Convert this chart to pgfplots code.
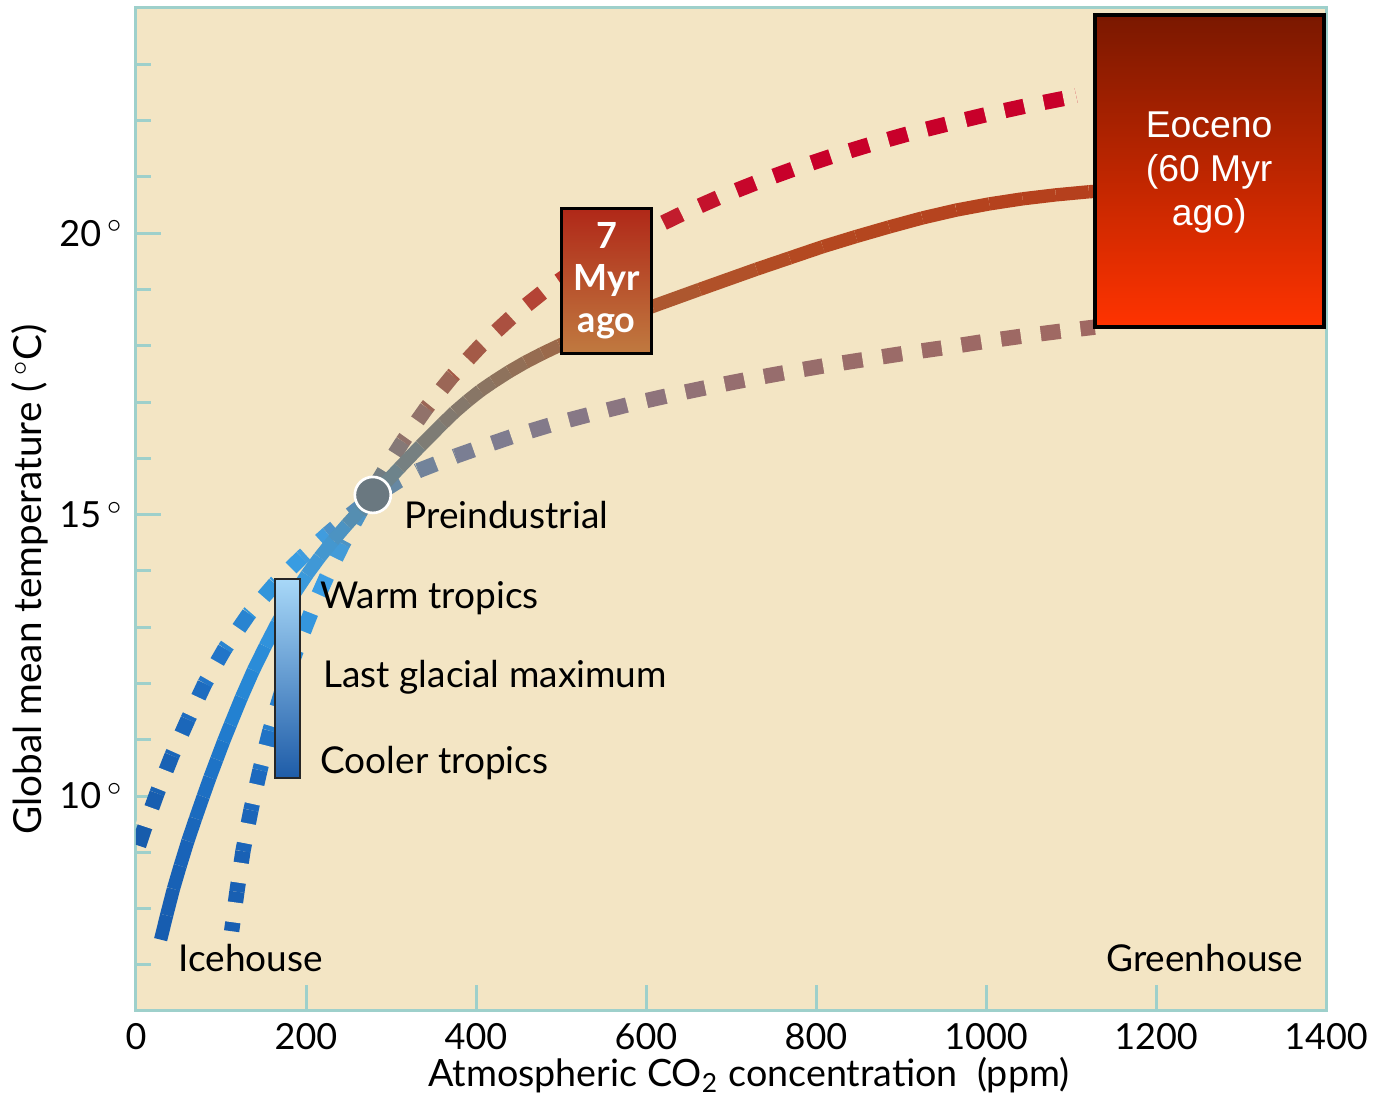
\documentclass[border=0pt]{standalone}
\usepackage{fontspec}
\setmainfont{Lato}
\newfontfamily\arialf{Liberation Sans}
\usepackage{pgfplots}
\usepackage{pgfplotstable}
\pgfplotsset{compat=1.18}
\definecolor{bgc}{RGB}{243,229,196}
\definecolor{axc}{RGB}{158,208,203}
\pgfplotsset{
 colormap={solidcm}{rgb255(0pt)=(21,85,165) rgb255(60pt)=(25,100,185) rgb255(120pt)=(35,130,210) rgb255(180pt)=(55,155,225) rgb255(230pt)=(70,150,205) rgb255(280pt)=(100,135,150) rgb255(340pt)=(125,125,120) rgb255(420pt)=(140,115,95) rgb255(520pt)=(160,100,65) rgb255(650pt)=(175,85,45) rgb255(800pt)=(180,72,32) rgb255(1200pt)=(182,62,28)},
 colormap={cmA}{rgb255(0pt)=(22,90,170) rgb255(80pt)=(30,110,195) rgb255(150pt)=(50,150,220) rgb255(200pt)=(60,160,230) rgb255(250pt)=(80,140,190) rgb255(300pt)=(105,135,160) rgb255(400pt)=(125,125,145) rgb255(550pt)=(138,118,130) rgb255(700pt)=(150,110,110) rgb255(1000pt)=(158,105,100) rgb255(1200pt)=(160,104,96)},
 colormap={cmB}{rgb255(0pt)=(22,88,170) rgb255(100pt)=(22,88,170) rgb255(140pt)=(28,105,190) rgb255(180pt)=(45,140,215) rgb255(220pt)=(60,160,230) rgb255(260pt)=(80,145,190) rgb255(290pt)=(115,125,130) rgb255(314pt)=(140,120,115) rgb255(373pt)=(160,95,75) rgb255(442pt)=(175,75,60) rgb255(480pt)=(185,58,45) rgb255(640pt)=(195,25,45) rgb255(730pt)=(200,0,42) rgb255(1200pt)=(200,0,42)},
}
% low-sensitivity range (upper-left below 280 ppm, lower branch above)
\pgfplotstableread{
x y
3 9.12
10.6 9.46
24.7 10.05
42.3 10.72
61.1 11.36
81 12.00
104.6 12.62
133 13.24
163.4 13.77
195 14.24
225.7 14.66
250 14.97
278.6 15.31
310 15.61
332 15.78
354 15.91
376 16.04
398.5 16.16
443 16.39
489 16.60
534 16.78
581 16.96
628 17.12
672 17.26
719 17.40
766 17.53
812 17.65
859 17.76
906 17.87
953 17.97
1000 18.08
1047 18.18
1094 18.27
1128 18.33
}\curveA
% high-sensitivity range
\pgfplotstableread{
x y
112.5 7.60
118.7 8.30
125.8 9.02
135.2 9.75
145.8 10.46
157.5 11.16
172 11.88
190.4 12.67
208 13.34
224.5 13.90
243.3 14.48
263 15.03
278.6 15.44
300 15.97
313.9 16.30
342 16.90
372.6 17.47
406.7 18.02
442 18.51
478.4 18.95
510 19.28
540 19.57
575 19.84
607.7 20.09
643 20.35
686.5 20.64
730 20.90
774.7 21.145
819.3 21.37
865 21.58
909.8 21.77
954.5 21.94
1001.5 22.11
1047 22.26
1094 22.40
1106 22.44
}\curveB
% central estimate
\pgfplotstableread{
x y
29 7.45
36 7.88
44 8.35
52 8.76
61 9.20
70 9.60
79 9.99
87 10.33
95 10.65
103 10.97
111 11.27
124 11.75
138 12.23
152 12.66
166 13.07
183 13.52
201 13.93
216 14.24
232 14.54
248 14.82
263 15.07
279 15.33
295 15.59
310 15.83
335 16.225
361 16.62
375 16.825
390 17.02
405 17.20
420 17.356
439 17.54
458 17.706
478 17.862
498 18.006
524 18.18
550 18.35
579 18.53
608 18.70
663 19.00
730 19.36
769 19.56
808 19.76
847 19.94
886 20.11
925 20.27
965 20.41
1004 20.52
1043 20.61
1082 20.68
1121 20.735
1135 20.75
}\curveS
\begin{document}
\fontsize{11.1}{13}\selectfont
\begin{tikzpicture}
\begin{axis}[
 scale only axis, width=357pt, height=300.6pt,
 xmin=0, xmax=1400, ymin=6.2, ymax=24,
 axis background/.style={fill=bgc},
 axis line style={draw=axc, line width=0.9pt},
 xtick={0,200,...,1400},
 ytick={10,15,20},
 yticklabels={10\,$^\circ$,15\,$^\circ$,20\,$^\circ$},
 minor ytick={7,8,9,11,12,13,14,16,17,18,19,21,22,23},
 tick align=inside, xtick pos=bottom, ytick pos=left,
 major tick length=7.5pt, minor tick length=4.5pt,
 every tick/.style={draw=axc, line width=0.9pt},
 tick label style={font=\fontsize{10.8}{13}\selectfont},
 /pgf/number format/assume math mode=true,
 /pgf/number format/set thousands separator={},
 xlabel={Atmospheric CO\textsubscript{2} concentration\ \ (ppm)},
 xlabel style={at={(axis description cs:0.515,0)}, anchor=center, yshift=-19.5pt, font=\fontsize{11.3}{13}\selectfont},
 ylabel={Global mean temperature (\,$^\circ$C)},
 ylabel style={at={(axis description cs:-0.089,0.43)}, anchor=center, font=\fontsize{11.6}{13}\selectfont},
 point meta min=0, point meta max=1200,
]
% low-sensitivity dashed curve
\addplot[mesh, point meta=x, colormap name=cmA, line width=4.6pt, line cap=butt] table {\curveA};
\addplot[bgc, line width=5.8pt, dash pattern=on 6pt off 6pt, dash phase=6pt] table {\curveA};
% high-sensitivity dashed curve
\addplot[mesh, point meta=x, colormap name=cmB, line width=4.6pt, line cap=butt] table {\curveB};
\addplot[bgc, line width=5.8pt, dash pattern=on 6pt off 6pt, dash phase=9.3pt] table {\curveB};
% central curve
\addplot[mesh, point meta=x, colormap name=solidcm, line width=4pt, line cap=butt] table {\curveS};
% preindustrial
\addplot[only marks, mark=*, mark size=5.4pt, mark options={fill={rgb,255:red,106;green,120;blue,128}, draw=white, line width=0.8pt}] coordinates {(278.6,15.35)};
% LGM bar
\addplot[draw=black!85, line width=0.6pt, top color={rgb,255:red,168;green,216;blue,248}, bottom color={rgb,255:red,30;green,92;blue,168}] coordinates {(163.4,10.32) (192.8,10.32) (192.8,13.86) (163.4,13.86)} -- cycle;
% 7 Myr box
\addplot[draw=black, line width=0.9pt, top color={rgb,255:red,176;green,40;blue,24}, bottom color={rgb,255:red,192;green,122;blue,64}] coordinates {(500.8,17.86) (606.6,17.86) (606.6,20.44) (500.8,20.44)} -- cycle;
% Eocene box
\addplot[draw=black, line width=1.2pt, top color={rgb,255:red,122;green,24;blue,0}, middle color={rgb,255:red,205;green,42;blue,0}, bottom color={rgb,255:red,255;green,51;blue,0}] coordinates {(1128.5,18.34) (1397.6,18.34) (1397.6,23.88) (1128.5,23.88)} -- cycle;
\node[align=center, text=white, font=\bfseries\fontsize{10.8}{12.6}\selectfont] at (axis cs:553.7,19.15) {7\\Myr\\ago};
\node[align=center, text=white, font=\arialf\fontsize{11.2}{13.2}\selectfont] at (axis cs:1262.5,21.08) {Eoceno\\(60 Myr\\ago)};
\node[anchor=west, inner sep=0pt] at (axis cs:49.4,7.13) {Icehouse};
\node[anchor=east, inner sep=0pt] at (axis cs:1374,7.13) {Greenhouse};
\node[anchor=west, inner sep=0pt] at (axis cs:315,14.99) {Preindustrial};
\node[anchor=west, inner sep=0pt] at (axis cs:216.3,13.52) {Warm tropics};
\node[anchor=west, inner sep=0pt] at (axis cs:219.8,12.12) {Last glacial maximum};
\node[anchor=west, inner sep=0pt] at (axis cs:216.3,10.58) {Cooler tropics};
\end{axis}
\pgfresetboundingbox
\path ([shift={(-40.8pt,-26.1pt)}]current axis.south west) rectangle ([shift={(15.9pt,2.4pt)}]current axis.north east);
\end{tikzpicture}
\end{document}
